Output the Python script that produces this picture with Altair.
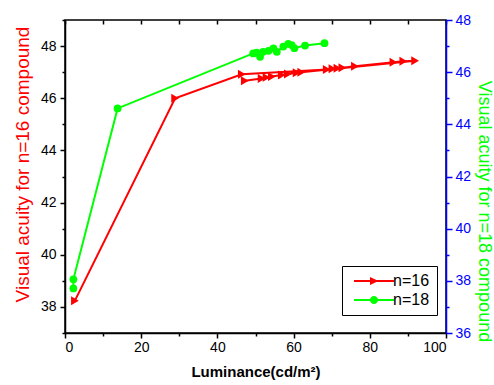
import altair as alt
import pandas as pd

# ---- data ----
red_x = [2.6, 28.9, 46.4, 68.7, 70.2, 71.5, 72.8, 76.1, 86.2, 88.8, 91.9,
         62.0, 60.8, 58.5, 56.9, 54.3, 52.9, 51.6, 47.2]
red_y = [38.24, 46.0, 46.92, 47.10, 47.13, 47.15, 47.17, 47.23, 47.38, 47.42, 47.44,
         47.00, 46.98, 46.93, 46.89, 46.83, 46.80, 46.76, 46.67]
green_x = [2.2, 2.2, 13.8, 49.4, 50.3, 51.2, 52.0, 53.4, 54.7, 55.6, 57.3,
           58.6, 59.5, 60.2, 63.0, 68.1]
green_y = [37.71, 38.06, 44.61, 46.72, 46.75, 46.59, 46.78, 46.82, 46.91, 46.78, 46.98,
           47.08, 47.04, 46.92, 47.02, 47.11]
series_names = ["n=16", "n=18"]
x_ticks = list(range(0, 101, 10))
left_ticks = list(range(37, 50))
right_ticks = list(range(36, 49))

red = pd.DataFrame({"x": red_x, "y": red_y, "idx": list(range(len(red_x))), "series": series_names[0]})
green = pd.DataFrame({"x": green_x, "y": green_y, "idx": list(range(len(green_x))), "series": series_names[1]})
both = pd.concat([red, green], ignore_index=True)

RED = "#ff0000"
GREEN = "#00ff00"
BLUE = "#0000ff"
FONT = "Liberation Sans, Arial, sans-serif"
NARROW = "Liberation Sans Narrow, Arial Narrow, Liberation Sans, Arial, sans-serif"

xscale = alt.Scale(domain=[0, 100], nice=False, zero=False)

x_bottom = alt.X(
    "x:Q", scale=xscale,
    axis=alt.Axis(
        title="Luminance(cd/m²)", values=x_ticks,
        labelExpr="datum.value % 20 === 0 ? datum.label : ''",
        tickSize={"condition": {"test": "datum.value % 20 === 0", "value": 5}, "value": 3},
        tickColor="black", tickWidth=1.5, domainColor="black", domainWidth=1.5,
        labelFont=NARROW, labelFontSize=14, labelColor="black", labelPadding=2,
        titleFont=FONT, titleFontSize=15, titleFontWeight="bold", titleColor="black",
        titlePadding=10, grid=False,
    ),
)
x_top = alt.X(
    "x:Q", scale=xscale,
    axis=alt.Axis(
        orient="top", values=x_ticks, labels=False, domain=False, title=None,
        tickSize=4, offset=-4, tickColor="black", tickWidth=1.5, grid=False,
    ),
)

y_left = alt.Y(
    "y:Q", scale=alt.Scale(domain=[37, 49], nice=False, zero=False),
    axis=alt.Axis(
        values=left_ticks,
        labelExpr="datum.value % 2 === 0 ? datum.label : ''",
        tickSize={"condition": {"test": "datum.value % 2 === 0", "value": 5}, "value": 3},
        tickColor="black", tickWidth=1.5, domainColor="black", domainWidth=1.5,
        labelFont=NARROW, labelFontSize=14, labelColor="black", labelPadding=4,
        title="Visual acuity for n=16 compound", titleColor=RED, titleFont=FONT,
        titleFontSize=19, titleFontWeight="normal", titleX=-43, titleY=144,
        titleBaseline="middle", grid=False,
    ),
)
y_right = alt.Y(
    "y:Q", scale=alt.Scale(domain=[36, 48], nice=False, zero=False),
    axis=alt.Axis(
        orient="right", values=right_ticks,
        labelExpr="datum.value % 2 === 0 ? datum.label : ''",
        tickSize={"condition": {"test": "datum.value % 2 === 0", "value": 6}, "value": 3},
        tickColor=BLUE, tickWidth=1.5, domainColor=BLUE, domainWidth=1.5,
        labelFont=NARROW, labelFontSize=14, labelColor=BLUE, labelPadding=3,
        title="Visual acuity for n=18 compound", titleColor=GREEN, titleFont=FONT,
        titleFontSize=18, titleFontWeight="normal", titleAngle=90, titleX=37, titleY=191,
        titleBaseline="middle", grid=False,
    ),
)

tri_path = ("M-4,-0.2H-0.8V0.2H-4Z M-0.8,-0.8L0.9,0L-0.8,0.8Z M0.5,-0.2H4V0.2H0.5Z")
circ_path = ("M-4,-0.2H-0.6V0.2H-4Z M0.8,0A0.8,0.8 0 1,1 -0.8,0A0.8,0.8 0 1,1 0.8,0Z "
             "M0.6,-0.2H4V0.2H0.6Z")

legend = alt.Legend(
    orient="none", legendX=277, legendY=246, title=None,
    strokeColor="black", fillColor="white", padding=7, cornerRadius=0,
    symbolSize=100, symbolStrokeWidth=0, symbolOpacity=1,
    symbolOffset=17, labelOffset=11,
    labelFont=NARROW, labelFontSize=16, labelColor="black", rowPadding=3,
)

red_line = alt.Chart(red).mark_line(color=RED, strokeWidth=2).encode(
    x=x_bottom, y=y_left, order=alt.Order("idx:Q"))
red_pts = alt.Chart(red).mark_point(shape="triangle-right", filled=True, color=RED,
                                    size=80, opacity=1).encode(x=x_bottom, y=y_left)
legend_layer = alt.Chart(both).mark_point(filled=True, opacity=0, size=100).encode(
    x=x_bottom, y=y_left,
    color=alt.Color("series:N", scale=alt.Scale(domain=series_names, range=[RED, GREEN]), legend=legend),
    shape=alt.Shape("series:N", scale=alt.Scale(domain=series_names, range=[tri_path, circ_path]), legend=legend),
)
green_line = alt.Chart(green).mark_line(color=GREEN, strokeWidth=2).encode(
    x=x_top, y=y_right, order=alt.Order("idx:Q"))
green_pts = alt.Chart(green).mark_point(shape="circle", filled=True, color=GREEN,
                                        size=60, opacity=1).encode(x=x_top, y=y_right)

left = alt.layer(red_line, red_pts, legend_layer)
right = alt.layer(green_line, green_pts)

chart = (
    alt.layer(left, right)
    .resolve_scale(y="independent")
    .resolve_axis(x="independent", y="independent")
    .properties(
        width=381, height=313,
        autosize=alt.AutoSizeParams(type="none"),
        padding={"left": 65, "top": 20, "right": 48, "bottom": 52},
        background="white",
    )
    .configure_view(stroke="black", strokeWidth=1.5)
)

chart.save("out.html", embed_options={"renderer": "svg", "actions": False})
